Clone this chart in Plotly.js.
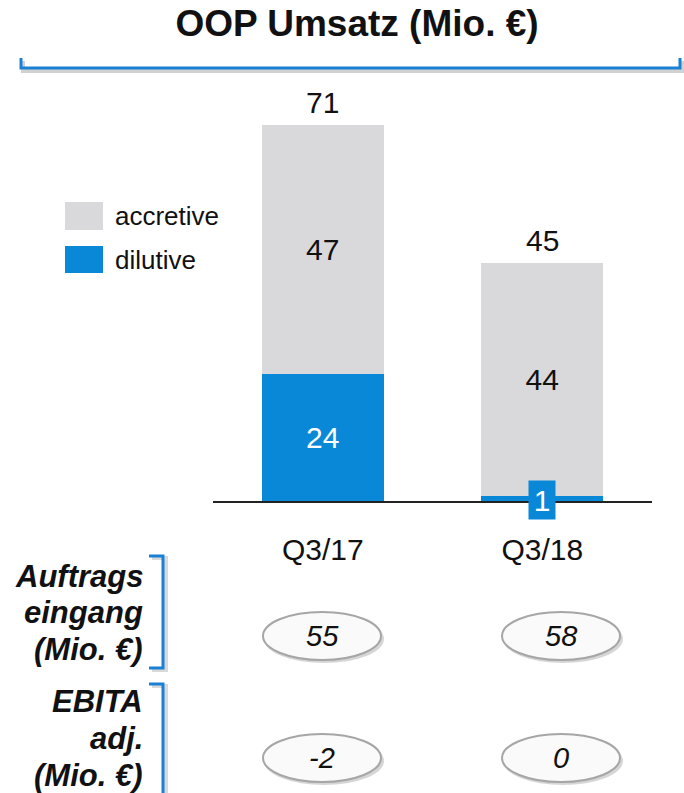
<!DOCTYPE html>
<html><head><meta charset="utf-8">
<script src="https://cdn.plot.ly/plotly-3.0.1.min.js"></script>
<style>html,body{margin:0;padding:0;background:#fff}#chart{width:684px;height:793px}</style>
</head><body><div id="chart"></div>
<script>
const categories = ['Q3/17', 'Q3/18'];
const accretive = [47, 44];
const dilutive = [24, 1];
const auftragseingang = [55, 58];
const ebitaAdj = [-2, 0];
const rowLabels = [['Auftrags', 'eingang', '(Mio. €)'], ['EBITA', 'adj.', '(Mio. €)']];
const legendLabels = ['accretive', 'dilutive'];
const chartTitle = 'OOP Umsatz (Mio. €)';

const FONT = 'Liberation Sans, Arial, sans-serif';
const GREY = '#d9d9db', BLUE = '#0a88d8', BRACKET = '#1a80d4';
const L = 213, R = 652, T = 77, B = 501;
const pw = R - L, ph = B - T;
const X = px => (px - L) / pw;
const Y = py => (B - py) / ph;

const totals = categories.map((c, i) => accretive[i] + dilutive[i]);

const traces = [
  {type: 'bar', name: legendLabels[1], x: categories, y: dilutive, marker: {color: BLUE},
   text: dilutive.map(v => v >= 5 ? String(v) : ''), textposition: 'inside', insidetextanchor: 'middle',
   textfont: {family: FONT, size: 30, color: '#fff'}, textangle: 0, hoverinfo: 'skip', showlegend: false},
  {type: 'bar', name: legendLabels[0], x: categories, y: accretive, marker: {color: GREY},
   text: accretive.map(String), textposition: 'inside', insidetextanchor: 'middle',
   textfont: {family: FONT, size: 30, color: '#111'}, textangle: 0, hoverinfo: 'skip', showlegend: false}
];

const annotations = [];
const shapes = [];

// totals above bars
categories.forEach((c, i) => {
  annotations.push({x: c, y: totals[i], xref: 'x', yref: 'y', text: String(totals[i]), showarrow: false,
    yanchor: 'bottom', yshift: 4, font: {family: FONT, size: 30, color: '#111'}});
  if (dilutive[i] < 5) {
    annotations.push({x: c, y: 0, xref: 'x', yref: 'y', text: String(dilutive[i]), showarrow: false,
      yanchor: 'middle', yshift: 1, bgcolor: BLUE, borderpad: 0, width: 26, height: 38,
      font: {family: FONT, size: 30, color: '#fff'}});
  }
});

// title bracket (shadow + line)
const bracketPath = (x0, x1, yl, yt, dx, dy) =>
  `M${X(x0+dx)},${Y(yt+dy)} L${X(x0+dx)},${Y(yl+dy)} L${X(x1+dx)},${Y(yl+dy)} L${X(x1+dx)},${Y(yt+dy)}`;
shapes.push({type: 'path', xref: 'paper', yref: 'paper', path: bracketPath(21, 680, 68, 58, 2, 3),
  line: {color: 'rgba(0,0,0,0.18)', width: 4}});
shapes.push({type: 'path', xref: 'paper', yref: 'paper', path: bracketPath(21, 680, 68, 58, 0, 0),
  line: {color: BRACKET, width: 3}});

// legend
const legendColors = [GREY, BLUE];
const legendRows = [[202, 230], [246, 273]];
legendLabels.forEach((lab, i) => {
  const [y0, y1] = legendRows[i];
  shapes.push({type: 'rect', xref: 'paper', yref: 'paper', x0: X(65), x1: X(103), y0: Y(y1), y1: Y(y0),
    fillcolor: legendColors[i], line: {width: 0}});
  annotations.push({xref: 'paper', yref: 'paper', x: X(113), y: Y((y0 + y1) / 2), xanchor: 'left', yanchor: 'middle',
    text: lab, showarrow: false, font: {family: FONT, size: 26, color: '#111'}});
});

// row labels with brackets
const rowLineCenters = [[576, 612, 649], [701, 738, 775]];
const rowBrackets = [[556, 668], [684, 800]];
rowLabels.forEach((lines, r) => {
  lines.forEach((line, k) => {
    annotations.push({xref: 'paper', yref: 'paper', x: X(145), y: Y(rowLineCenters[r][k]), xanchor: 'right', yanchor: 'middle',
      text: line, showarrow: false,
      font: {family: FONT, size: 31, color: '#111', weight: 'bold', style: 'italic'}});
  });
  const [a, b] = rowBrackets[r];
  const p = (dx, dy) => `M${X(149+dx)},${Y(a+dy)} L${X(163+dx)},${Y(a+dy)} L${X(163+dx)},${Y(b+dy)} L${X(149+dx)},${Y(b+dy)}`;
  shapes.push({type: 'path', xref: 'paper', yref: 'paper', path: p(3, 2), line: {color: 'rgba(0,0,0,0.15)', width: 4}});
  shapes.push({type: 'path', xref: 'paper', yref: 'paper', path: p(0, 0), line: {color: BRACKET, width: 3}});
});

// ellipses with values
const ellipseCols = [322, 561];
const ellipseRows = [636, 758];
const rowValues = [auftragseingang, ebitaAdj];
rowValues.forEach((vals, r) => {
  vals.forEach((v, c) => {
    const cx = ellipseCols[c], cy = ellipseRows[r];
    shapes.push({type: 'circle', xref: 'paper', yref: 'paper', x0: X(cx - 58), x1: X(cx + 62), y0: Y(cy + 27), y1: Y(cy - 21),
      fillcolor: 'rgba(0,0,0,0.16)', line: {width: 0}});
    shapes.push({type: 'circle', xref: 'paper', yref: 'paper', x0: X(cx - 59), x1: X(cx + 59), y0: Y(cy + 24), y1: Y(cy - 24),
      fillcolor: '#fafafa', line: {color: '#a6a6a6', width: 2}});
    annotations.push({xref: 'paper', yref: 'paper', x: X(cx), y: Y(cy), xanchor: 'center', yanchor: 'middle',
      text: String(v), showarrow: false, font: {family: FONT, size: 29, color: '#111', style: 'italic'}});
  });
});

const layout = {
  width: 684, height: 793,
  margin: {l: L, r: 684 - R, t: T, b: 793 - B, pad: 0},
  paper_bgcolor: '#fff', plot_bgcolor: '#fff',
  barmode: 'stack', bargap: 0.444, showlegend: false,
  font: {family: FONT, color: '#111'},
  title: {text: '<b>' + chartTitle + '</b>', x: 357 / 684, xanchor: 'center', xref: 'container',
    y: 1 - 23 / 793, yanchor: 'middle', yref: 'container', font: {family: FONT, size: 37, color: '#111'}},
  xaxis: {type: 'category', range: [-0.5, 1.5], showline: true, linecolor: '#222', linewidth: 2,
    ticks: '', showgrid: false, zeroline: false, ticklabelstandoff: 21,
    tickfont: {family: FONT, size: 30, color: '#111'}, fixedrange: true},
  yaxis: {range: [0, 80], visible: false, showgrid: false, zeroline: false, fixedrange: true},
  shapes: shapes, annotations: annotations
};

Plotly.newPlot('chart', traces, layout, {displayModeBar: false, staticPlot: true});
</script>
</body></html>
